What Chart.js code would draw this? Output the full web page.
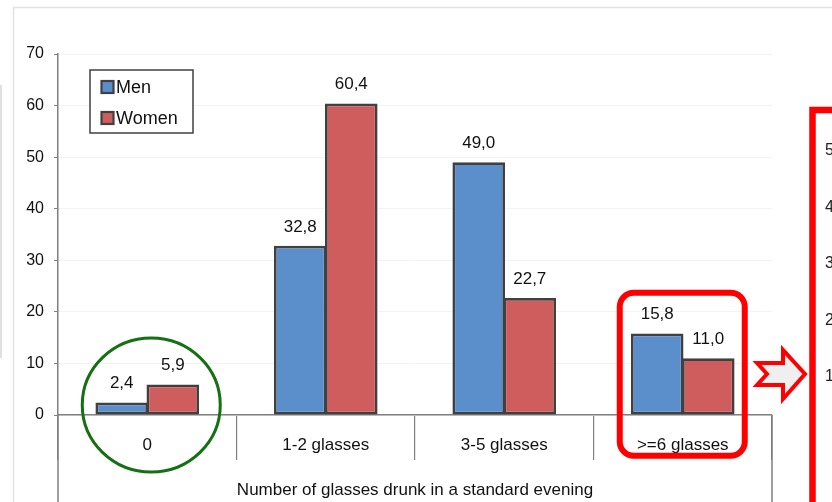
<!DOCTYPE html>
<html>
<head>
<meta charset="utf-8">
<script src="https://cdn.jsdelivr.net/npm/chart.js@4.4.1/dist/chart.umd.min.js"></script>
<style>
  html, body { margin: 0; padding: 0; background: #fff; }
  #wrap { position: relative; width: 832px; height: 502px; }
</style>
</head>
<body>
<div id="wrap"><canvas id="glassesChart" width="832" height="502"></canvas></div>
<script>
const categories = ['0', '1-2 glasses', '3-5 glasses', '>=6 glasses'];
const menValues = [2.4, 32.8, 49.0, 15.8];
const womenValues = [5.9, 60.4, 22.7, 11.0];
const yTicks = [0, 10, 20, 30, 40, 50, 60, 70];
// tick labels of the neighbouring panel, cut off at the right edge
const sideTicks = ['50', '40', '30', '20', '10'];

const FONT = "'Liberation Sans', Arial, sans-serif";
const AXIS_GRAY = '#808080';

function fmt(v) {
    return v.toFixed(1).replace('.', ',');
}

const decorations = {
    id: 'decorations',
    beforeDraw(chart) {
        const ctx = chart.ctx;
        ctx.save();
        // light page frame
        ctx.strokeStyle = '#e2e2e2';
        ctx.lineWidth = 1.5;
        ctx.beginPath();
        ctx.moveTo(13.5, chart.height);
        ctx.lineTo(13.5, 7.5);
        ctx.lineTo(chart.width, 7.5);
        ctx.stroke();
        ctx.strokeStyle = '#d6d6d6';
        ctx.beginPath();
        ctx.moveTo(1, 85);
        ctx.lineTo(1, 358);
        ctx.stroke();
        ctx.restore();
    },
    afterDraw(chart) {
        const ctx = chart.ctx;
        const area = chart.chartArea;
        const x = chart.scales.x;
        const y = chart.scales.y;
        ctx.save();

        // axis lines running on to the bottom edge
        ctx.strokeStyle = AXIS_GRAY;
        ctx.lineWidth = 1.5;
        ctx.beginPath();
        ctx.moveTo(area.left, area.bottom);
        ctx.lineTo(area.left, chart.height);
        ctx.moveTo(area.right, area.bottom);
        ctx.lineTo(area.right, chart.height);
        ctx.stroke();

        // value labels above the bars
        ctx.fillStyle = '#111';
        ctx.font = '17px ' + FONT;
        ctx.textAlign = 'center';
        ctx.textBaseline = 'middle';
        chart.data.datasets.forEach((ds, i) => {
            chart.getDatasetMeta(i).data.forEach((bar, j) => {
                ctx.fillText(fmt(ds.data[j]), bar.x, bar.y - 19);
            });
        });

        // legend box
        const lx = area.left + 32, ly = area.top + 16;
        ctx.fillStyle = '#fff';
        ctx.fillRect(lx, ly, 103, 63);
        ctx.strokeStyle = '#404040';
        ctx.lineWidth = 1.5;
        ctx.strokeRect(lx, ly, 103, 63);
        ctx.font = '18px ' + FONT;
        ctx.textAlign = 'left';
        chart.data.datasets.forEach((ds, i) => {
            const cy = ly + 17 + i * 31;
            ctx.fillStyle = ds.backgroundColor;
            ctx.fillRect(lx + 11.5, cy - 6, 12, 12);
            ctx.strokeStyle = '#404040';
            ctx.lineWidth = 2.2;
            ctx.strokeRect(lx + 11.5, cy - 6, 12, 12);
            ctx.fillStyle = '#111';
            ctx.fillText(ds.label, lx + 26, cy + 1);
        });

        // green circle around the first group
        ctx.strokeStyle = '#137013';
        ctx.lineWidth = 3;
        ctx.beginPath();
        ctx.ellipse(x.getPixelForValue(0) + 4, y.getPixelForValue(0) - 10, 69, 67, 0, 0, Math.PI * 2);
        ctx.stroke();

        // red rounded box around the last group
        const cx3 = x.getPixelForValue(3);
        ctx.strokeStyle = '#ff0000';
        ctx.lineWidth = 6;
        ctx.beginPath();
        ctx.roundRect(cx3 - 63, y.getPixelForValue(23.7), 125, 163, 14);
        ctx.stroke();

        // arrow pointing to the next panel
        ctx.fillStyle = '#efefef';
        ctx.lineWidth = 4;
        ctx.lineJoin = 'miter';
        ctx.beginPath();
        ctx.moveTo(757, 363);
        ctx.lineTo(767, 374);
        ctx.lineTo(757, 385);
        ctx.lineTo(783, 385);
        ctx.lineTo(783, 399);
        ctx.lineTo(805, 374);
        ctx.lineTo(783, 350);
        ctx.lineTo(783, 363);
        ctx.closePath();
        ctx.fill();
        ctx.stroke();

        // neighbouring panel frame
        ctx.fillStyle = '#fff';
        ctx.fillRect(815, 113, chart.width - 815, chart.height - 113);
        ctx.lineWidth = 6.5;
        ctx.beginPath();
        ctx.moveTo(812.5, chart.height + 10);
        ctx.lineTo(812.5, 110);
        ctx.lineTo(chart.width + 10, 110);
        ctx.stroke();
        ctx.fillStyle = '#222';
        ctx.font = '16px ' + FONT;
        ctx.textAlign = 'left';
        sideTicks.forEach((t, i) => {
            ctx.fillText(t, 825, 151 + i * 56.5);
        });

        ctx.restore();
    }
};

const ctx = document.getElementById('glassesChart').getContext('2d');
const chart = new Chart(ctx, {
    type: 'bar',
    data: {
        labels: categories,
        datasets: [{
            label: 'Men',
            data: menValues,
            backgroundColor: '#5b8fcc',
            borderColor: '#404040',
            borderWidth: 2.7,
            borderSkipped: false
        }, {
            label: 'Women',
            data: womenValues,
            backgroundColor: '#cf5d5d',
            borderColor: '#404040',
            borderWidth: 2.7,
            borderSkipped: false
        }]
    },
    options: {
        responsive: false,
        animation: false,
        layout: {
            padding: { top: 54, right: 60, bottom: 0, left: 0 }
        },
        datasets: {
            bar: {
                categoryPercentage: 0.572,
                barPercentage: 1.03
            }
        },
        plugins: {
            legend: { display: false },
            tooltip: { enabled: false }
        },
        scales: {
            x: {
                afterFit(scale) { scale.height = 87; },
                grid: {
                    drawOnChartArea: false,
                    tickLength: 45,
                    color: AXIS_GRAY,
                    lineWidth: 1.2
                },
                border: { color: AXIS_GRAY, width: 1.5 },
                ticks: {
                    padding: -25,
                    color: '#111',
                    font: { family: FONT, size: 17 }
                },
                title: {
                    display: true,
                    text: 'Number of glasses drunk in a standard evening',
                    color: '#111',
                    font: { family: FONT, size: 17 },
                    padding: { top: 0, bottom: 1 }
                }
            },
            y: {
                min: 0,
                max: 70,
                afterFit(scale) { scale.width = 58; },
                afterBuildTicks(scale) {
                    scale.ticks = yTicks.map(v => ({ value: v }));
                },
                grid: {
                    color: '#f3f3f3',
                    tickColor: AXIS_GRAY,
                    tickLength: 4,
                    lineWidth: 1
                },
                border: { color: AXIS_GRAY, width: 1.5 },
                ticks: {
                    padding: 10,
                    color: '#111',
                    font: { family: FONT, size: 16 }
                }
            }
        }
    },
    plugins: [decorations]
});
</script>
</body>
</html>
